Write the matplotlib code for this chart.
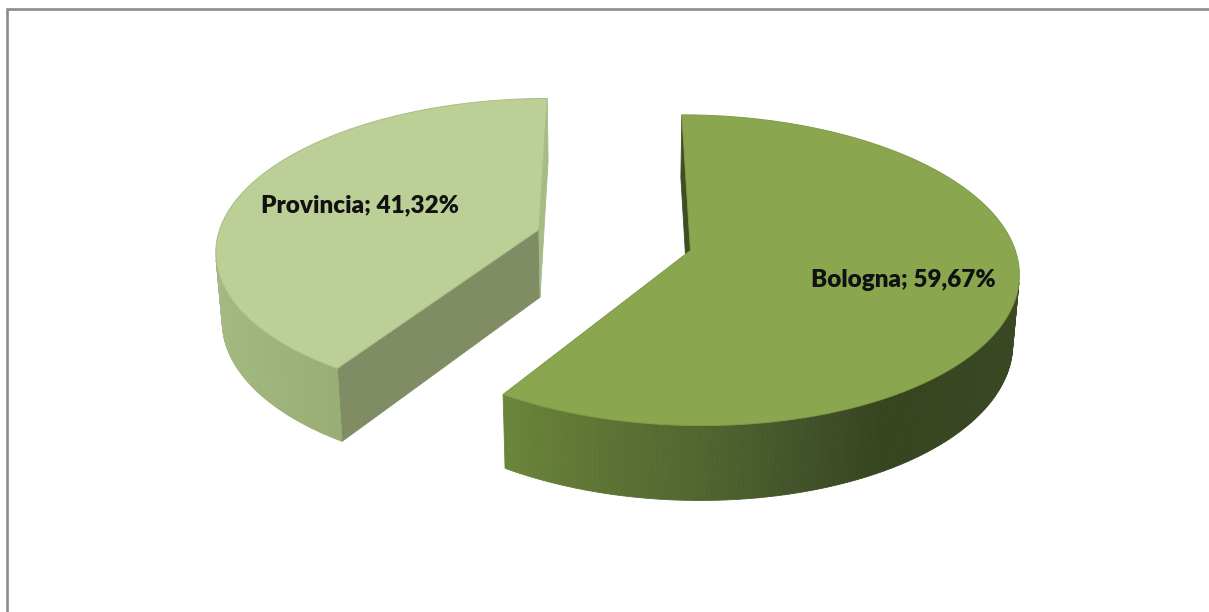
import numpy as np
import matplotlib

matplotlib.use("Agg")
import matplotlib.pyplot as plt
from matplotlib.collections import PolyCollection
from matplotlib.colors import to_rgb
from matplotlib.patches import Polygon

# slice data (clockwise from 12 o'clock)
labels = ["Bologna", "Provincia"]
values = [59.67, 41.32]

# styling per slice
top_colors = ["#8aa74f", "#bccf96"]
edge_colors = ["#7f9a48", "#a9bd84"]
start_face_colors = ["#3e4f23", "#7f8c64"]
end_face_colors = ["#52662e", "#a6bb85"]
wall_stops = [
    ([90, 120, 150, 165, 180, 195, 213], ["#3d4c25", "#384622", "#36441f", "#43532a", "#52652f", "#5d7334", "#6b863a"]),
    ([213, 240, 270], ["#99ae75", "#a2b67f", "#a9bb88"]),
]
label_radius = [0.66, 0.60]

# canvas / camera in pixel units
W, H = 1209, 612
X0, Y0 = 614, 240
R = 322
TILT = np.radians(27.8)
FOCAL = 2260
DEPTH = 78
EXPLODE = 79

cam = np.array([0.0, FOCAL * np.sin(TILT), FOCAL * np.cos(TILT)])


def project(X, Y, Z):
    X, Y, Z = np.broadcast_arrays(np.asarray(X, float), np.asarray(Y, float), np.asarray(Z, float))
    ys = Z * np.sin(TILT) - Y * np.cos(TILT)
    zc = Z * np.cos(TILT) + Y * np.sin(TILT)
    s = FOCAL / (FOCAL - zc)
    return X0 + X * s, Y0 + ys * s


def visible(normal, point):
    return np.dot(normal, cam - np.asarray(point)) > 0


def wall_color(theta, stops):
    pos, cols = stops
    rgb = np.array([to_rgb(c) for c in cols])
    return tuple(np.interp(theta, pos, rgb[:, k]) for k in range(3))


fig = plt.figure(figsize=(12.09, 6.12), dpi=100)
ax = fig.add_axes([0, 0, 1, 1])
ax.set_xlim(0, W)
ax.set_ylim(H, 0)
ax.axis("off")

total = sum(values)
bounds = np.concatenate([[0], np.cumsum(values) / total * 360])

slices = []
for i, v in enumerate(values):
    t1, t2 = bounds[i], bounds[i + 1]
    tm = np.radians((t1 + t2) / 2)
    ox, oz = EXPLODE * np.sin(tm), -EXPLODE * np.cos(tm)
    slices.append((i, t1, t2, tm, ox, oz))

# back slices first
for i, t1, t2, tm, ox, oz in sorted(slices, key=lambda s: s[5]):
    th = np.radians(np.linspace(t1, t2, 300))
    rim_x = ox + R * np.sin(th)
    rim_z = oz - R * np.cos(th)

    # radial cut faces
    for ang, sign, col in ((t1, -1, start_face_colors[i]), (t2, 1, end_face_colors[i])):
        a = np.radians(ang)
        n = sign * np.array([np.cos(a), 0, np.sin(a)])
        px, pz = ox + R * np.sin(a), oz - R * np.cos(a)
        mid = np.array([(ox + px) / 2, -DEPTH / 2, (oz + pz) / 2])
        if visible(n, mid):
            qx, qy = project([ox, px, px, ox], [0, 0, -DEPTH, -DEPTH], [oz, pz, pz, oz])
            ax.add_patch(Polygon(np.column_stack([qx, qy]), closed=True, facecolor=col,
                                 edgecolor=col, lw=0.6, zorder=2))

    # curved outer wall, shaded strip by strip
    quads, cols = [], []
    for k in range(len(th) - 1):
        m = (th[k] + th[k + 1]) / 2
        n = np.array([np.sin(m), 0, -np.cos(m)])
        pt = np.array([ox + R * np.sin(m), -DEPTH / 2, oz - R * np.cos(m)])
        if not visible(n, pt):
            continue
        xs = [rim_x[k], rim_x[k + 1], rim_x[k + 1], rim_x[k]]
        zs = [rim_z[k], rim_z[k + 1], rim_z[k + 1], rim_z[k]]
        qx, qy = project(xs, [0, 0, -DEPTH, -DEPTH], zs)
        quads.append(np.column_stack([qx, qy]))
        cols.append(wall_color(np.degrees(m), wall_stops[i]))
    ax.add_collection(PolyCollection(quads, facecolors=cols, edgecolors=cols, linewidths=0.6, zorder=2))

    # top face
    tx, ty = project(np.concatenate([[ox], rim_x]), 0, np.concatenate([[oz], rim_z]))
    ax.add_patch(Polygon(np.column_stack([tx, ty]), closed=True, facecolor=top_colors[i],
                         edgecolor=edge_colors[i], lw=0.7, zorder=3))

    # data label
    lr = label_radius[i] * R
    lx, ly = project(ox + lr * np.sin(tm), 0, oz - lr * np.cos(tm))
    text = f"{labels[i]}; {values[i]:.2f}%".replace(".", ",")
    ax.text(lx, ly, text, ha="center", va="center", fontsize=17.5, fontweight="heavy",
            family=["Lato", "DejaVu Sans"], color="#111111", zorder=5)

# chart frame
ax.plot([7.3, 7.3, W + 5], [H + 5, 9.3, 9.3], color="#8c8c8c", lw=1.9, solid_joinstyle="miter", zorder=6)

fig.savefig("out.png", dpi=100)
plt.close(fig)
